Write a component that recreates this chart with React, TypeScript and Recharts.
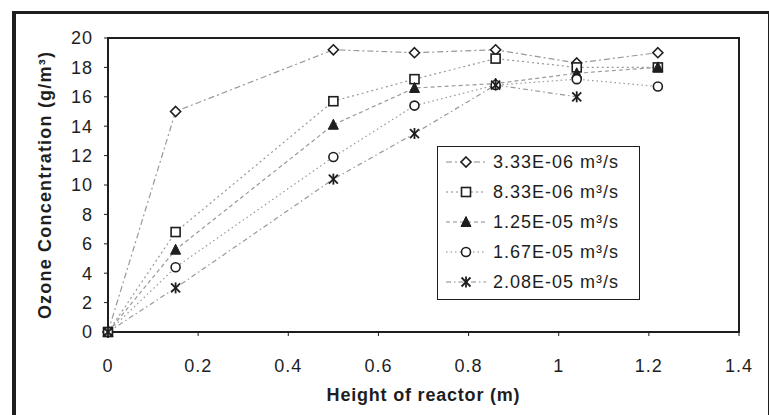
import React from 'react';
import {
    LineChart,
    Line,
    XAxis,
    YAxis,
    ReferenceArea,
} from 'recharts';

// reactor heights (m) and ozone concentration (g/m3) per flow rate
const heights = [0, 0.15, 0.5, 0.68, 0.86, 1.04, 1.22];
const flow333 = [0, 15.0, 19.2, 19.0, 19.2, 18.3, 19.0];
const flow833 = [0, 6.8, 15.7, 17.2, 18.6, 18.0, 18.0];
const flow125 = [0, 5.6, 14.1, 16.6, 16.9, 17.6, 18.0];
const flow167 = [0, 4.4, 11.9, 15.4, 16.8, 17.2, 16.7];
const flow208 = [0, 3.0, 10.4, 13.5, 16.8, 16.0, null];

const xTicks = [0, 0.2, 0.4, 0.6, 0.8, 1, 1.2, 1.4];
const yTicks = [0, 2, 4, 6, 8, 10, 12, 14, 16, 18, 20];

const FONT = '"Liberation Sans", Arial, sans-serif';
const INK = '#1e1e1e';

type Shape = 'diamond' | 'square' | 'triangle' | 'circle' | 'star';

const series: { name: string; values: (number | null)[]; shape: Shape; dash: string }[] = [
    { name: '3.33E-06 m³/s', values: flow333, shape: 'diamond', dash: '6 3 2 3' },
    { name: '8.33E-06 m³/s', values: flow833, shape: 'square', dash: '2 3' },
    { name: '1.25E-05 m³/s', values: flow125, shape: 'triangle', dash: '4 3' },
    { name: '1.67E-05 m³/s', values: flow167, shape: 'circle', dash: '1.5 3' },
    { name: '2.08E-05 m³/s', values: flow208, shape: 'star', dash: '5 3 1.5 3' },
];

const toPoints = (values: (number | null)[]) =>
    heights.map((h, i) => ({ x: h, y: values[i] }));

const Marker = ({ shape, cx, cy }: { shape: Shape; cx: number; cy: number }) => {
    const s = 4.5;
    switch (shape) {
        case 'diamond':
            return (
                <polygon
                    points={`${cx},${cy - s - 0.5} ${cx + s + 0.5},${cy} ${cx},${cy + s + 0.5} ${cx - s - 0.5},${cy}`}
                    fill="#fff" stroke={INK} strokeWidth={1.6}
                />
            );
        case 'square':
            return <rect x={cx - s} y={cy - s} width={2 * s} height={2 * s} fill="#fff" stroke={INK} strokeWidth={1.6} />;
        case 'triangle':
            return <polygon points={`${cx},${cy - s - 1} ${cx + s + 0.5},${cy + s} ${cx - s - 0.5},${cy + s}`} fill={INK} stroke={INK} strokeWidth={1} />;
        case 'circle':
            return <circle cx={cx} cy={cy} r={s} fill="#fff" stroke={INK} strokeWidth={1.6} />;
        case 'star':
            return (
                <g stroke={INK} strokeWidth={1.8}>
                    <line x1={cx - s} y1={cy - s} x2={cx + s} y2={cy + s} />
                    <line x1={cx - s} y1={cy + s} x2={cx + s} y2={cy - s} />
                    <line x1={cx} y1={cy - s - 1} x2={cx} y2={cy + s + 1} />
                </g>
            );
    }
};

const LegendBox = () => (
    <div
        style={{
            position: 'absolute',
            left: 437,
            top: 146,
            border: `1.5px solid ${INK}`,
            background: '#fff',
            width: 203,
            padding: '0 0 2px 0',
            boxSizing: 'border-box',
            fontFamily: FONT,
            fontSize: 18,
            letterSpacing: 1,
            color: INK,
        }}
    >
        {series.map((s) => (
            <div key={s.name} style={{ display: 'flex', alignItems: 'center', height: 30 }}>
                <svg width={50} height={16} style={{ marginLeft: 4 }}>
                    <line x1={4} y1={8} x2={44} y2={8} stroke="#888" strokeWidth={1.2} strokeDasharray={s.dash} />
                    <Marker shape={s.shape} cx={24} cy={8} />
                </svg>
                <span style={{ marginLeft: 1, whiteSpace: 'nowrap' }}>{s.name}</span>
            </div>
        ))}
    </div>
);

export default function App() {
    return (
        <div style={{ position: 'absolute', left: 0, top: 0, width: 769, height: 415, background: '#fff', overflow: 'hidden' }}>
            <div
                style={{
                    position: 'absolute',
                    left: 12,
                    top: 11,
                    width: 752,
                    height: 420,
                    borderLeft: `4px solid ${INK}`,
                    borderTop: `3px solid ${INK}`,
                    borderRight: `2px solid ${INK}`,
                }}
            />
            <LineChart
                width={769}
                height={415}
                margin={{ top: 38, right: 30, bottom: 28, left: 24 }}
                style={{ position: 'absolute', left: 0, top: 0 }}
            >
                <XAxis
                    dataKey="x"
                    type="number"
                    domain={[0, 1.4]}
                    ticks={xTicks}
                    interval={0}
                    allowDuplicatedCategory={false}
                    height={55}
                    axisLine={{ stroke: INK, strokeWidth: 2 }}
                    tickLine={{ stroke: INK }}
                    tickSize={4}
                    tickMargin={23}
                    tick={{ fontSize: 18, fill: INK, fontFamily: FONT, letterSpacing: 1 }}
                    label={{
                        value: 'Height of reactor (m)',
                        position: 'bottom',
                        offset: 1,
                        style: { fontSize: 18, fill: INK, fontFamily: FONT, fontWeight: 'bold', letterSpacing: 0.8 },
                    }}
                />
                <YAxis
                    dataKey="y"
                    type="number"
                    domain={[0, 20]}
                    ticks={yTicks}
                    interval={0}
                    width={84}
                    axisLine={{ stroke: INK, strokeWidth: 2 }}
                    tickLine={{ stroke: INK }}
                    tickSize={4}
                    tickMargin={11}
                    tick={{ fontSize: 18, fill: INK, fontFamily: FONT, letterSpacing: 1 }}
                    label={{
                        value: 'Ozone Concentration (g/m³)',
                        angle: -90,
                        position: 'insideLeft',
                        offset: 21,
                        style: { textAnchor: 'middle', fontSize: 18, fill: INK, fontFamily: FONT, fontWeight: 'bold', letterSpacing: 1.2 },
                    }}
                />
                <ReferenceArea x1={0} x2={1.4} y1={0} y2={20} fill="none" stroke={INK} strokeWidth={2} ifOverflow="visible" />
                {series.map((s) => (
                    <Line
                        key={s.name}
                        data={toPoints(s.values)}
                        dataKey="y"
                        name={s.name}
                        type="linear"
                        stroke="#999"
                        strokeWidth={1.2}
                        strokeDasharray={s.dash}
                        isAnimationActive={false}
                        dot={(p: any) =>
                            p.cx == null || p.cy == null || p.value == null ? (
                                <g key={`${s.name}-${p.index}`} />
                            ) : (
                                <g key={`${s.name}-${p.index}`}>
                                    <Marker shape={s.shape} cx={p.cx} cy={p.cy} />
                                </g>
                            )
                        }
                        activeDot={false}
                    />
                ))}
            </LineChart>
            <LegendBox />
        </div>
    );
}
